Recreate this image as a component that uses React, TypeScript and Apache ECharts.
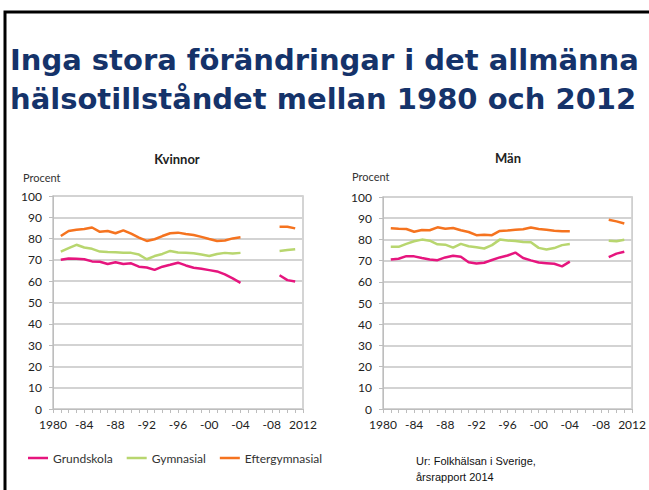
import React, { useEffect, useRef } from 'react';
import * as echarts from 'echarts';

const years = [1981, 1982, 1983, 1984, 1985, 1986, 1987, 1988, 1989, 1990, 1991, 1992, 1993, 1994, 1995, 1996, 1997, 1998, 1999, 2000, 2001, 2002, 2003, 2004, 2005, 2006, 2007, 2008, 2009, 2010, 2011];

// Kvinnor
const kGrundskola = [70.1, 70.7, 70.5, 70.3, 69.3, 69.1, 68.1, 68.9, 68.1, 68.4, 66.8, 66.4, 65.3, 66.8, 67.7, 68.7, 67.4, 66.3, 65.8, 65.2, 64.6, 63.2, 61.3, 59.2, null, null, null, null, 62.8, 60.5, 59.9];
const kGymnasial = [73.9, 75.5, 77.1, 75.8, 75.2, 73.9, 73.7, 73.6, 73.4, 73.3, 72.5, 70.3, 71.8, 72.8, 74.2, 73.5, 73.4, 73.1, 72.5, 71.8, 72.8, 73.3, 73.0, 73.3, null, null, null, null, 74.2, 74.6, 75.0];
const kEftergymnasial = [81.2, 83.6, 84.2, 84.5, 85.2, 83.2, 83.6, 82.5, 83.9, 82.3, 80.5, 78.9, 79.7, 81.2, 82.5, 82.8, 82.2, 81.7, 80.8, 79.8, 78.9, 79.1, 80.1, 80.6, null, null, null, null, 85.6, 85.6, 84.8];

// Män
const mGrundskola = [70.5, 70.9, 72.1, 72.0, 71.2, 70.5, 70.2, 71.5, 72.3, 71.8, 69.2, 68.6, 69.0, 70.3, 71.5, 72.4, 73.8, 71.2, 70.1, 69.1, 68.8, 68.5, 67.3, 69.5, null, null, null, null, 71.6, 73.3, 74.2];
const mGymnasial = [76.5, 76.5, 77.9, 79.1, 79.9, 79.4, 77.7, 77.5, 76.1, 77.9, 76.8, 76.3, 75.7, 77.3, 79.9, 79.5, 79.2, 78.8, 78.7, 76.0, 75.2, 75.9, 77.3, 77.8, null, null, null, null, 79.4, 79.1, 79.8];
const mEftergymnasial = [85.3, 85.0, 84.9, 83.6, 84.4, 84.3, 85.7, 85.0, 85.4, 84.3, 83.5, 82.0, 82.2, 82.0, 84.0, 84.2, 84.5, 84.8, 85.6, 84.9, 84.5, 84.1, 83.9, 83.9, null, null, null, null, 89.3, 88.5, 87.5];

const seriesNames = ['Grundskola', 'Gymnasial', 'Eftergymnasial'];
const seriesColors = ['#E6157E', '#B8D66F', '#F5731F'];
const panelTitles = ['Kvinnor', 'Män'];
const yAxisTitle = 'Procent';
const titleLines = ['Inga stora förändringar i det allmänna', 'hälsotillståndet mellan 1980 och 2012'];
const sourceLines = ['Ur: Folkhälsan i Sverige,', 'årsrapport 2014'];

const labelFont = 'Lato, "Open Sans", sans-serif';

function pairs(vals: (number | null)[]) {
  return years.map((y, i) => [y, vals[i] === null ? '-' : vals[i]]);
}

export default function App() {
  const ref = useRef<HTMLDivElement>(null);
  useEffect(() => {
    document.body.style.margin = '0';
    const chart = echarts.init(ref.current!, null, { renderer: 'svg' });
    const grids = [
      { left: 53, top: 196, width: 250, height: 213 },
      { left: 383, top: 197, width: 254, height: 212 },
    ];
    const axisGray = '#bdbdbd';
    const xAxis = grids.map((_, i) => ({
      type: 'value',
      gridIndex: i,
      min: 1980,
      max: 2012,
      interval: 4,
      axisLine: { show: true, lineStyle: { color: axisGray, width: 1 } },
      axisTick: { show: true, length: 4, lineStyle: { color: axisGray } },
      minorTick: { show: true, splitNumber: 4, length: 4, lineStyle: { color: axisGray } },
      splitLine: { show: false },
      axisLabel: {
        fontFamily: labelFont,
        fontSize: 12,
        color: '#222',
        margin: 9,
        formatter: (v: number) => (v === 1980 || v === 2012 ? String(v) : '-' + String(v).slice(2)),
      },
    }));
    const yAxis = grids.map((_, i) => ({
      type: 'value',
      gridIndex: i,
      min: 0,
      max: 100,
      interval: 10,
      axisLine: { show: true, lineStyle: { color: axisGray, width: 1 } },
      axisTick: { show: true, length: 4, lineStyle: { color: axisGray } },
      splitLine: { show: true, lineStyle: { color: '#d3d3d3', width: 2 } },
      axisLabel: { fontFamily: labelFont, fontSize: 12, color: '#222', margin: 11 },
    }));
    const data = [
      [kGrundskola, kGymnasial, kEftergymnasial],
      [mGrundskola, mGymnasial, mEftergymnasial],
    ];
    const series: any[] = [];
    data.forEach((panel, gi) => {
      panel.forEach((vals, si) => {
        series.push({
          type: 'line',
          name: seriesNames[si],
          xAxisIndex: gi,
          yAxisIndex: gi,
          data: pairs(vals),
          showSymbol: false,
          symbol: 'none',
          connectNulls: false,
          lineStyle: { color: seriesColors[si], width: 2.5 },
          itemStyle: { color: seriesColors[si] },
          z: 3,
        });
      });
    });
    const titleFont = 'bold 29px "DejaVu Sans", Verdana, sans-serif';
    const option: any = {
      animation: false,
      backgroundColor: '#fff',
      grid: grids.map((g) => ({ ...g, show: true, borderColor: '#c6c6c6', borderWidth: 1.5, backgroundColor: 'transparent' })),
      xAxis,
      yAxis,
      legend: {
        data: seriesNames,
        left: 28,
        top: 452,
        icon: 'rect',
        itemWidth: 20,
        itemHeight: 2.5,
        itemGap: 14,
        padding: 0,
        textStyle: { fontFamily: labelFont, fontSize: 12, color: '#333' },
      },
      series,
      graphic: [
        { type: 'polyline', shape: { points: [[5, 495], [5, 12], [660, 12]] }, style: { stroke: '#000', lineWidth: 3, fill: 'none' } },
        { type: 'text', x: 10, y: 60, style: { text: titleLines[0], font: titleFont, fill: '#15336a', textAlign: 'left', textVerticalAlign: 'middle' } },
        { type: 'text', x: 10, y: 99, style: { text: titleLines[1], font: titleFont, fill: '#15336a', textAlign: 'left', textVerticalAlign: 'middle' } },
        { type: 'text', x: 177, y: 159, style: { text: panelTitles[0], font: 'bold 13px ' + labelFont, fill: '#222', textAlign: 'center', textVerticalAlign: 'middle' } },
        { type: 'text', x: 508, y: 158, style: { text: panelTitles[1], font: 'bold 13px ' + labelFont, fill: '#222', textAlign: 'center', textVerticalAlign: 'middle' } },
        { type: 'text', x: 23, y: 177, style: { text: yAxisTitle, font: '11px ' + labelFont, fill: '#333', textAlign: 'left', textVerticalAlign: 'middle' } },
        { type: 'text', x: 352, y: 176, style: { text: yAxisTitle, font: '11px ' + labelFont, fill: '#333', textAlign: 'left', textVerticalAlign: 'middle' } },
        { type: 'text', x: 416, y: 461, style: { text: sourceLines[0], font: '11px "Liberation Sans", Arial, sans-serif', fill: '#111', textAlign: 'left', textVerticalAlign: 'middle' } },
        { type: 'text', x: 416, y: 477, style: { text: sourceLines[1], font: '11px "Liberation Sans", Arial, sans-serif', fill: '#111', textAlign: 'left', textVerticalAlign: 'middle' } },
      ],
    };
    chart.setOption(option);
    return () => chart.dispose();
  }, []);
  return <div ref={ref} style={{ width: 649, height: 490 }} />;
}
